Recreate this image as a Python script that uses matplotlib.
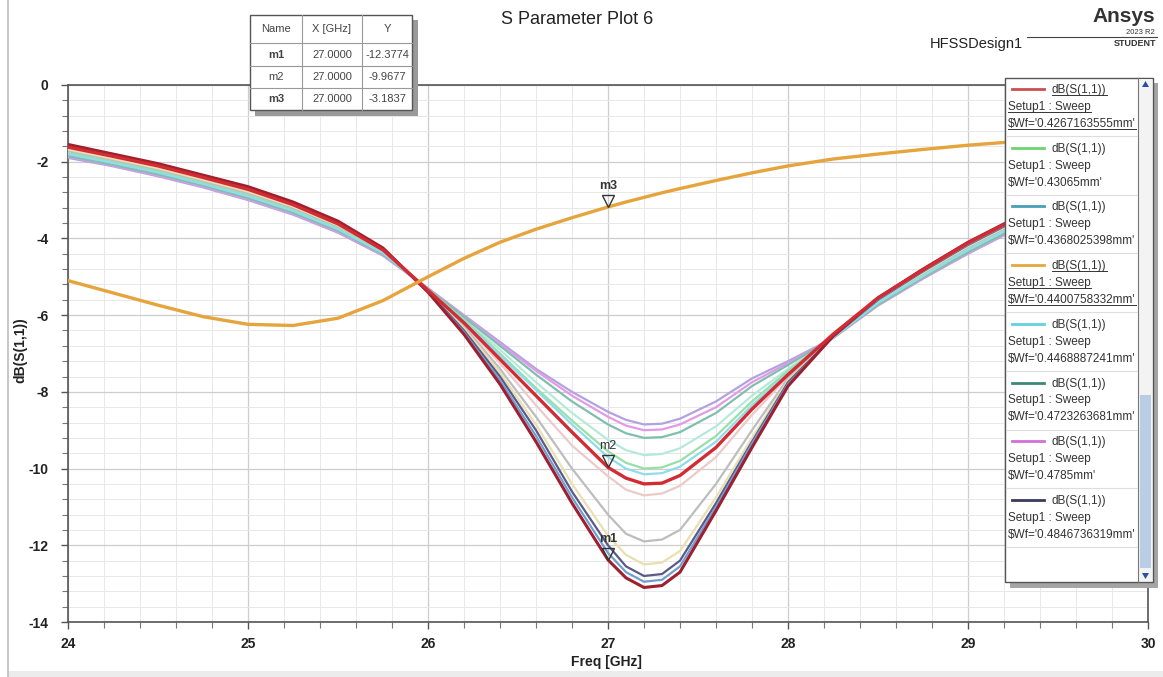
import matplotlib
matplotlib.use('Agg')
import matplotlib.pyplot as plt
from matplotlib.patches import Rectangle, Polygon
from matplotlib.lines import Line2D
from matplotlib.ticker import MultipleLocator
from matplotlib.transforms import offset_copy

plt.rcParams['font.family'] = ['Liberation Sans', 'DejaVu Sans']

W, H = 1163, 677

# frequency points (GHz) the traces were read at
freq = [24.0, 24.25, 24.5, 24.75, 25.0, 25.25, 25.5, 25.75, 26.0, 26.2, 26.4, 26.6, 26.8,
        27.0, 27.1, 27.2, 27.3, 27.4, 27.6, 27.8, 28.0, 28.25, 28.5, 28.75, 29.0, 29.25,
        29.5, 29.75, 30.0]

# dB(S(1,1)) per Wf sweep value
s11_04267 = [-1.62, -1.86, -2.11, -2.41, -2.72, -3.12, -3.62, -4.3, -5.35, -6.2, -7.15, -8.1, -9.05,
             -9.97, -10.25, -10.4, -10.38, -10.18, -9.45, -8.45, -7.55, -6.5, -5.55, -4.82, -4.12, -3.52,
             -2.97, -2.52, -2.07]
s11_043065 = [-1.78, -2.01, -2.26, -2.56, -2.88, -3.26, -3.74, -4.37, -5.33, -6.12, -7.0, -7.9, -8.75,
              -9.55, -9.85, -10.0, -9.97, -9.8, -9.15, -8.25, -7.45, -6.58, -5.68, -4.98, -4.3, -3.7,
              -3.15, -2.7, -2.24]
s11_04368 = [-1.6, -1.84, -2.09, -2.39, -2.7, -3.1, -3.6, -4.28, -5.4, -6.45, -7.7, -9.15, -10.75,
             -12.2, -12.7, -12.95, -12.9, -12.55, -11.0, -9.35, -7.8, -6.56, -5.58, -4.84, -4.15, -3.55,
             -3.0, -2.55, -2.1]
s11_04401 = [-5.1, -5.42, -5.74, -6.04, -6.24, -6.27, -6.08, -5.62, -5.0, -4.52, -4.1, -3.76, -3.46,
             -3.18, -3.05, -2.93, -2.81, -2.7, -2.49, -2.29, -2.11, -1.93, -1.8, -1.68, -1.57, -1.48,
             -1.41, -1.35, -1.3]
s11_04469 = [-1.8, -2.03, -2.28, -2.58, -2.9, -3.28, -3.76, -4.38, -5.33, -6.15, -7.05, -7.95, -8.85,
             -9.7, -10.0, -10.15, -10.12, -9.95, -9.3, -8.35, -7.5, -6.58, -5.67, -4.97, -4.29, -3.69,
             -3.14, -2.69, -2.23]
s11_04723 = [-1.85, -2.08, -2.33, -2.62, -2.95, -3.33, -3.8, -4.41, -5.31, -6.05, -6.8, -7.55, -8.25,
             -8.85, -9.08, -9.2, -9.18, -9.05, -8.55, -7.85, -7.3, -6.59, -5.72, -5.02, -4.36, -3.76,
             -3.21, -2.76, -2.3]
s11_04785 = [-1.87, -2.1, -2.36, -2.65, -2.98, -3.36, -3.83, -4.43, -5.3, -6.02, -6.75, -7.45, -8.1,
             -8.65, -8.88, -9.0, -8.98, -8.85, -8.4, -7.75, -7.25, -6.6, -5.73, -5.04, -4.38, -3.78,
             -3.23, -2.78, -2.32]
s11_04847 = [-1.58, -1.82, -2.07, -2.37, -2.68, -3.08, -3.58, -4.27, -5.38, -6.4, -7.6, -9.0, -10.6,
             -12.0, -12.55, -12.8, -12.75, -12.4, -10.9, -9.3, -7.75, -6.56, -5.6, -4.86, -4.17, -3.57,
             -3.02, -2.57, -2.12]
# traces scrolled out of the legend
s11_hidden_a = [-1.55, -1.8, -2.05, -2.35, -2.65, -3.05, -3.55, -4.25, -5.4, -6.5, -7.8, -9.3, -10.9,
                -12.38, -12.85, -13.1, -13.05, -12.7, -11.1, -9.45, -7.85, -6.55, -5.55, -4.8, -4.1, -3.5,
                -2.95, -2.5, -2.05]
s11_hidden_b = [-1.68, -1.92, -2.17, -2.47, -2.78, -3.17, -3.66, -4.32, -5.37, -6.35, -7.5, -8.85, -10.4,
                -11.75, -12.25, -12.5, -12.45, -12.15, -10.75, -9.2, -7.7, -6.57, -5.62, -4.89, -4.2, -3.6,
                -3.05, -2.6, -2.15]
s11_hidden_c = [-1.72, -1.96, -2.21, -2.51, -2.82, -3.21, -3.69, -4.34, -5.35, -6.3, -7.4, -8.65, -10.0,
                -11.2, -11.7, -11.9, -11.85, -11.6, -10.4, -9.0, -7.65, -6.57, -5.64, -4.92, -4.23, -3.63,
                -3.08, -2.63, -2.18]
s11_hidden_d = [-1.75, -1.98, -2.23, -2.53, -2.85, -3.24, -3.72, -4.36, -5.35, -6.25, -7.25, -8.35, -9.4,
                -10.2, -10.55, -10.7, -10.65, -10.45, -9.7, -8.6, -7.6, -6.58, -5.66, -4.95, -4.26, -3.66,
                -3.11, -2.66, -2.2]
s11_hidden_e = [-1.83, -2.06, -2.31, -2.6, -2.93, -3.31, -3.79, -4.4, -5.32, -6.1, -6.9, -7.75, -8.55,
                -9.25, -9.52, -9.65, -9.62, -9.47, -8.9, -8.1, -7.4, -6.59, -5.7, -5.0, -4.33, -3.73,
                -3.18, -2.73, -2.27]
s11_hidden_f = [-1.9, -2.12, -2.38, -2.67, -3.0, -3.38, -3.85, -4.45, -5.3, -6.0, -6.7, -7.4, -8.0,
                -8.52, -8.73, -8.85, -8.83, -8.7, -8.25, -7.65, -7.2, -6.6, -5.75, -5.05, -4.4, -3.8,
                -3.25, -2.8, -2.35]

legend_wf = ["$Wf='0.4267163555mm'", "$Wf='0.43065mm'", "$Wf='0.4368025398mm'",
             "$Wf='0.4400758332mm'", "$Wf='0.4468887241mm'", "$Wf='0.4723263681mm'",
             "$Wf='0.4785mm'", "$Wf='0.4846736319mm'"]

marker_names = ['m1', 'm2', 'm3']
marker_freq = [27.0, 27.0, 27.0]
marker_db = [-12.3774, -9.9677, -3.1837]

# drawing order, colour, width
traces = [
    (s11_hidden_f, '#b3a2e0', 1.6),
    (s11_hidden_e, '#b6e9dc', 1.6),
    (s11_hidden_d, '#eccaca', 1.6),
    (s11_hidden_c, '#bdbdbd', 1.6),
    (s11_hidden_b, '#e9dfb0', 1.6),
    (s11_04785, '#e29ae6', 1.6),
    (s11_04723, '#7fbfae', 1.6),
    (s11_043065, '#98e0a8', 1.6),
    (s11_04469, '#8fdcea', 1.6),
    (s11_04847, '#5a5a86', 1.6),
    (s11_04368, '#6f9fd2', 1.6),
    (s11_hidden_a, '#9e1f2e', 2.2),
    (s11_04267, '#d32b33', 2.4),
    (s11_04401, '#e6a43c', 2.4),
]
legend_colors = ['#c9504f', '#6fd36f', '#4a9fb8', '#e3a83c', '#63d0e0', '#3b8a78', '#d070d8', '#3a3a5e']
underlined = [0, 3]


def fx(x):
    return x / W


def fy(y):
    return 1 - y / H


fig = plt.figure(figsize=(W / 100, H / 100), dpi=100)
fig.patch.set_facecolor('white')


def fig_rect(x0, y0, x1, y1, **kw):
    r = Rectangle((fx(x0), fy(y1)), (x1 - x0) / W, (y1 - y0) / H, transform=fig.transFigure, **kw)
    fig.add_artist(r)
    return r


def fig_line(xs, ys, **kw):
    ln = Line2D([fx(x) for x in xs], [fy(y) for y in ys], transform=fig.transFigure, **kw)
    fig.add_artist(ln)
    return ln


def fig_text(x, y, s, **kw):
    return fig.text(fx(x), fy(y), s, **kw)


# plot area
ax_l, ax_r, ax_t, ax_b = 68, 1148, 85, 622
ax = fig.add_axes([fx(ax_l), fy(ax_b), (ax_r - ax_l) / W, (ax_b - ax_t) / H])

for data, color, lw in traces:
    ax.plot(freq, data, color=color, lw=lw, solid_capstyle='round', solid_joinstyle='round', zorder=3)

ax.set_xlim(24, 30)
ax.set_ylim(-14, 0)
ax.xaxis.set_minor_locator(MultipleLocator(0.2))
ax.yaxis.set_minor_locator(MultipleLocator(0.4))
ax.set_xticks(range(24, 31))
ax.set_xticklabels([str(v) for v in range(24, 31)], fontsize=10, fontweight='bold', color='#222222')
ax.set_yticks(range(-14, 1, 2))
ax.set_yticklabels([str(v) for v in range(-14, 1, 2)], fontsize=10, fontweight='bold', color='#222222')
ax.grid(which='major', color='#cdcdcd', lw=0.9)
ax.grid(which='minor', color='#e8e8e8', lw=0.7)
ax.set_axisbelow(True)
for sp in ax.spines.values():
    sp.set_color('#555555')
    sp.set_linewidth(1.2)
ax.tick_params(which='major', direction='out', length=5, width=1, color='#555555')
ax.tick_params(which='minor', direction='out', length=4, width=0.8, color='#777777')
ax.tick_params(axis='x', pad=6)
ax.tick_params(axis='y', pad=9)

# markers on the traces
for name, f, v in zip(marker_names, marker_freq, marker_db):
    tri = offset_copy(ax.transData, fig=fig, x=0, y=4.5, units='points')
    ax.plot([f], [v], marker='v', ms=9, mfc='none', mec='#333333', mew=1.0, transform=tri, zorder=6)
    lab = offset_copy(ax.transData, fig=fig, x=0, y=15, units='points')
    ax.text(f, v, name, transform=lab, ha='center', va='center', fontsize=9,
            fontweight='normal' if name == 'm2' else 'bold', color='#333333', zorder=6)

# labels and titles
fig_text(20, 350, 'dB(S(1,1))', rotation=90, ha='center', va='center', fontsize=10, fontweight='bold',
         color='#222222')
fig_text(606, 662, 'Freq [GHz]', ha='center', va='center', fontsize=10, fontweight='bold', color='#222222')
fig_text(577, 20, 'S Parameter Plot 6', ha='center', va='center', fontsize=13, color='#222222')
fig_text(976, 44, 'HFSSDesign1', ha='center', va='center', fontsize=10.5, color='#222222')
fig_text(1155, 16, 'Ansys', ha='right', va='center', fontsize=15, fontweight='bold', color='#333333')
fig_text(1155, 32, '2023 R2', ha='right', va='center', fontsize=5.5, color='#333333')
fig_line([1027, 1157], [37, 37], color='#444444', lw=0.8)
fig_text(1156, 43, 'STUDENT', ha='right', va='center', fontsize=6.5, fontweight='bold', color='#333333')

# page border
fig_line([8, 8], [0, 677], color='#bdbdbd', lw=1.2)
fig_rect(8, 671, 1163, 677, fc='#ececec', ec='none', zorder=1)

# marker table
cols = [250, 302, 362, 412]
rows = [15, 43, 66, 88, 110]
fig_rect(cols[0] + 5, rows[0] + 5, cols[-1] + 6, rows[-1] + 6, fc='#9a9a9a', ec='none', zorder=5)
fig_rect(cols[0], rows[0], cols[-1], rows[-1], fc='white', ec='#555555', lw=1, zorder=6)
for y in rows[1:-1]:
    fig_line([cols[0], cols[-1]], [y, y], color='#999999', lw=0.8, zorder=7)
for x in cols[1:-1]:
    fig_line([x, x], [rows[0], rows[-1]], color='#999999', lw=0.8, zorder=7)
header = ['Name', 'X [GHz]', 'Y']
for j, h in enumerate(header):
    fig_text((cols[j] + cols[j + 1]) / 2, (rows[0] + rows[1]) / 2, h, ha='center', va='center',
             fontsize=8, color='#444444', zorder=8)
for i, (name, f, v) in enumerate(zip(marker_names, marker_freq, marker_db)):
    yc = (rows[i + 1] + rows[i + 2]) / 2
    cells = [name, f'{f:.4f}', f'{v:.4f}']
    for j, c in enumerate(cells):
        fig_text((cols[j] + cols[j + 1]) / 2, yc, c, ha='center', va='center', fontsize=8,
                 fontweight='bold' if (j == 0 and name != 'm2') else 'normal', color='#444444', zorder=8)

# legend panel with scroll bar
lx0, lx1, ly0, ly1 = 1005, 1153, 78, 582
fig_rect(lx0 + 5, ly0 + 5, lx1 + 5, ly1 + 6, fc='#a5a5a5', ec='none', zorder=5)
fig_rect(lx0, ly0, lx1, ly1, fc='white', ec='#555555', lw=1, zorder=6)
fig_rect(1139, ly0 + 1, lx1 - 1, ly1 - 1, fc='#f3f3f3', ec='none', zorder=7)
fig_rect(1140, 395, 1151, 568, fc='#b9cde5', ec='none', zorder=7)
fig_line([1138, 1138], [ly0, ly1], color='#777777', lw=0.8, zorder=7)
fig.add_artist(Polygon([(fx(1142), fy(87)), (fx(1149), fy(87)), (fx(1145.5), fy(81))],
                       closed=True, fc='#2c4f9e', ec='none', transform=fig.transFigure, zorder=8))
fig.add_artist(Polygon([(fx(1142), fy(573)), (fx(1149), fy(573)), (fx(1145.5), fy(579))],
                       closed=True, fc='#2c4f9e', ec='none', transform=fig.transFigure, zorder=8))

legend_texts = []
pitch = 58.7
for i, (wf, col) in enumerate(zip(legend_wf, legend_colors)):
    y0 = 89 + i * pitch
    fig_line([1012, 1044], [y0, y0], color=col, lw=2, zorder=8)
    t1 = fig_text(1052, y0 + 1, 'dB(S(1,1))', ha='left', va='center', fontsize=8.5, color='#333333', zorder=8)
    t2 = fig_text(1008, y0 + 18, 'Setup1 : Sweep', ha='left', va='center', fontsize=8.5, color='#333333', zorder=8)
    t3 = fig_text(1008, y0 + 35, wf, ha='left', va='center', fontsize=8.5, color='#333333', zorder=8)
    fig_line([lx0 + 1, 1137], [y0 + 47, y0 + 47], color='#dddddd', lw=0.8, zorder=7)
    if i in underlined:
        legend_texts.extend([t1, t2, t3])

# underline the highlighted legend entries
renderer = fig.canvas.get_renderer()
inv = fig.transFigure.inverted()
for t in legend_texts:
    bb = t.get_window_extent(renderer)
    (x0, y0), (x1, y1) = inv.transform([(bb.x0, bb.y0), (bb.x1, bb.y0)])
    fig.add_artist(Line2D([x0, x1], [y0 + 0.001, y0 + 0.001], color='#333333', lw=0.7,
                          transform=fig.transFigure, zorder=8))

fig.savefig('out.png', dpi=100)
